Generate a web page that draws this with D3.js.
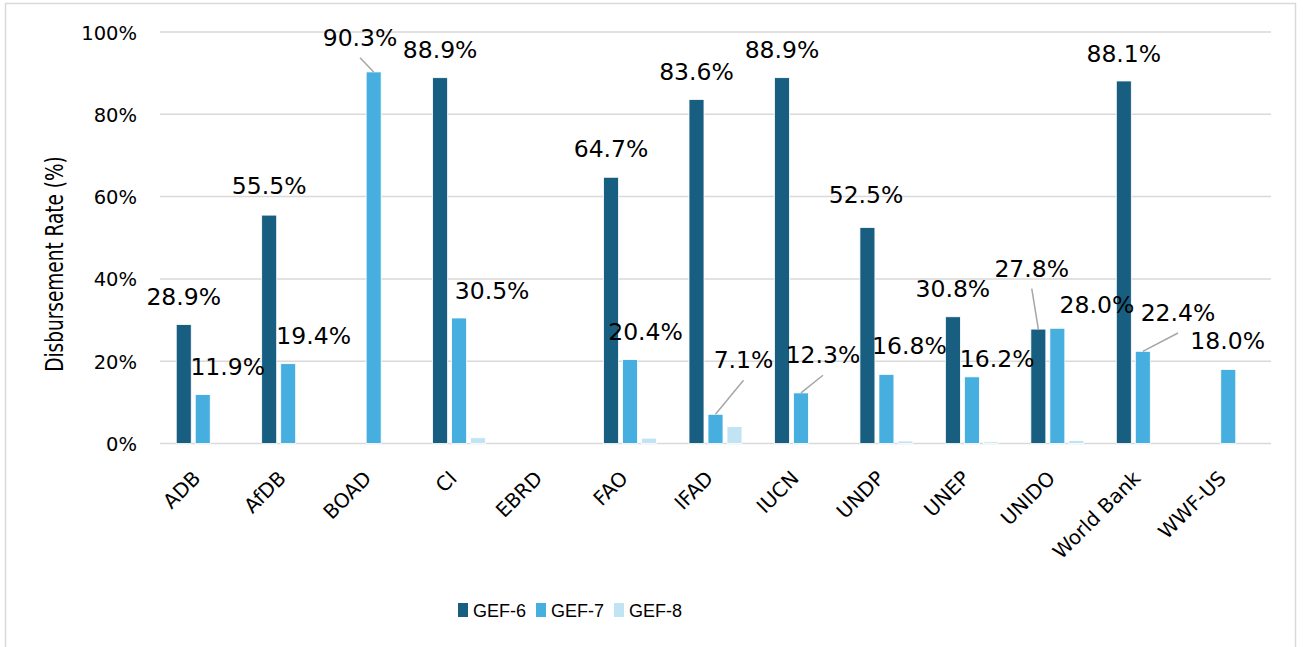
<!DOCTYPE html>
<html>
<head>
<meta charset="utf-8">
<script src="https://cdn.jsdelivr.net/npm/d3@7"></script>
<style>
  html, body { margin: 0; padding: 0; background: #fff; }
  svg { display: block; }
</style>
</head>
<body>
<svg id="chart" width="1303" height="647"></svg>
<script>
// ---------------- DATA ----------------
const categories = ["ADB","AfDB","BOAD","CI","EBRD","FAO","IFAD","IUCN","UNDP","UNEP","UNIDO","World Bank","WWF-US"];
const seriesNames = ["GEF-6","GEF-7","GEF-8"];
const gef6 = [28.9, 55.5, null, 88.9, null, 64.7, 83.6, 88.9, 52.5, 30.8, 27.8, 88.1, null];
const gef7 = [11.9, 19.4, 90.3, 30.5, null, 20.4, 7.1, 12.3, 16.8, 16.2, 28.0, 22.4, 18.0];
const gef8 = [null, null, null, 1.4, null, 1.3, 4.1, null, 0.6, 0.4, 0.7, null, null];
const yTicks = [0, 20, 40, 60, 80, 100];
const yTitle = "Disbursement Rate (%)";

// label nudges [dx, dy, leader] relative to bar top-centre (data labels moved by hand in the original)
const gef6LabelNudge = [[0,-19.6],[0,-20.7],null,[0,-19.4],null,[0,-20.6],[0,-19.5],[0,-19.4],[-1.4,-24.2],[0,-20],[-6.6,-52.4,true],[0,-18.7],null];
const gef7LabelNudge = [[25,-19.5],[25.5,-19.7],[-13.6,-26.2,true],[33,-19],null,[15.5,-19.5],[28,-46,true],[22,-29.6,true],[23,-20],[25.3,-9.5],[39.6,-15],[35.2,-30.3,true],[-0.6,-20.4]];

const colors = {"GEF-6": "#175e80", "GEF-7": "#47afe0", "GEF-8": "#c1e4f4"};

// ---------------- CHART ----------------
const svg = d3.select("#chart");
const plot = {left: 160, right: 1271, top: 32, bottom: 443.5};

// outer border
svg.append("rect")
  .attr("x", 5.5).attr("y", 3.5)
  .attr("width", 1290).attr("height", 660)
  .attr("fill", "#fff").attr("stroke", "#d9d9d9").attr("stroke-width", 1.5);

const x0 = d3.scaleBand().domain(categories).range([plot.left, plot.right]).padding(0);
const x1 = d3.scaleBand().domain(seriesNames).range([0, 57]).paddingInner(4/19).paddingOuter(2/19);
const y = d3.scaleLinear().domain([0, 100]).range([plot.bottom, plot.top]);

// gridlines
svg.append("g").selectAll("line").data(yTicks).join("line")
  .attr("x1", plot.left).attr("x2", plot.right)
  .attr("y1", d => y(d)).attr("y2", d => y(d))
  .attr("stroke", "#d9d9d9").attr("stroke-width", 1.5);

// y axis tick labels
const yAxis = d3.axisLeft(y).tickValues(yTicks).tickFormat(d => d + "%").tickSize(0).tickPadding(0);
const yg = svg.append("g").attr("transform", `translate(137,0)`).call(yAxis);
yg.select(".domain").remove();
yg.selectAll("text")
  .attr("font-family", "'DejaVu Sans', sans-serif")
  .attr("font-size", 19.5)
  .attr("fill", "#000")
  .attr("dy", "0.36em");

// y title
svg.append("text")
  .attr("transform", `translate(63,264) rotate(-90) scale(1,1.3)`)
  .attr("text-anchor", "middle")
  .attr("font-family", "'DejaVu Sans', sans-serif")
  .attr("font-size", 18.5)
  .attr("fill", "#000")
  .text(yTitle);

// bars
const seriesData = [gef6, gef7, gef8];
const groupStart = c => x0(c) + x0.bandwidth() / 2 - 28.5;
const barsG = svg.append("g");
seriesNames.forEach((s, si) => {
  const vals = seriesData[si];
  barsG.append("g").selectAll("rect")
    .data(categories.map((c, i) => ({c, v: vals[i]})).filter(d => d.v != null))
    .join("rect")
    .attr("x", d => groupStart(d.c) + x1(s))
    .attr("width", x1.bandwidth())
    .attr("y", d => y(d.v))
    .attr("height", d => y(0) - y(d.v))
    .attr("fill", colors[s])
    .attr("stroke", "#fff").attr("stroke-width", 0.8);
});

// data labels + leader lines
const labelG = svg.append("g");
[[gef6, gef6LabelNudge, "GEF-6"], [gef7, gef7LabelNudge, "GEF-7"]].forEach(([vals, nudges, s]) => {
  categories.forEach((c, i) => {
    const v = vals[i];
    if (v == null) return;
    const n = nudges[i] || [0, -19.5];
    const bx = groupStart(c) + x1(s) + x1.bandwidth() / 2;
    const by = y(v);
    const lx = bx + n[0], ly = by + n[1];
    if (n[2]) {
      labelG.append("line")
        .attr("x1", lx).attr("y1", ly + 12)
        .attr("x2", bx).attr("y2", by)
        .attr("stroke", "#a6a6a6").attr("stroke-width", 1.5);
    }
    labelG.append("text")
      .attr("x", lx).attr("y", ly)
      .attr("text-anchor", "middle")
      .attr("font-family", "'DejaVu Sans', sans-serif")
      .attr("font-size", 23.5)
      .attr("fill", "#000")
      .text(v.toFixed(1) + "%");
  });
});

// x axis labels
const xAxis = d3.axisBottom(x0).tickSize(0).tickPadding(0);
const xg = svg.append("g").attr("transform", `translate(0,${plot.bottom})`).call(xAxis);
xg.select(".domain").remove();
xg.selectAll("text")
  .attr("font-family", "'DejaVu Sans', sans-serif")
  .attr("font-size", 20)
  .attr("fill", "#000")
  .attr("text-anchor", "end")
  .attr("dy", 0)
  .attr("y", 0)
  .attr("transform", "translate(-1,36) rotate(-45)");

// legend
const legendX = [458, 536, 614];
const lg = svg.append("g");
seriesNames.forEach((s, i) => {
  lg.append("rect")
    .attr("x", legendX[i]).attr("y", 603)
    .attr("width", 10).attr("height", 14)
    .attr("fill", colors[s]);
  lg.append("text")
    .attr("x", legendX[i] + 15).attr("y", 617)
    .attr("font-family", "'Liberation Sans', Arial, sans-serif")
    .attr("font-size", 18)
    .attr("fill", "#000")
    .text(s);
});
</script>
</body>
</html>
